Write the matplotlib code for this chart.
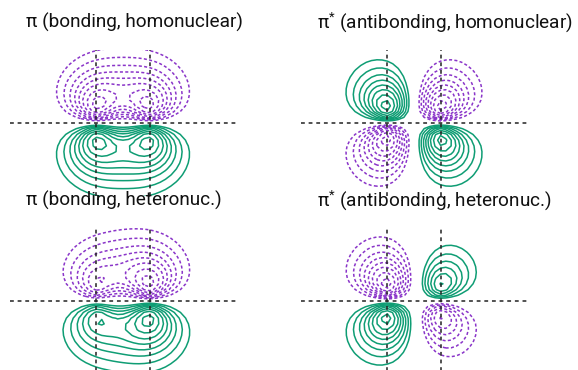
import numpy as np
import matplotlib
matplotlib.use("Agg")
import matplotlib.pyplot as plt

plt.rcParams['font.family'] = ['Roboto', 'DejaVu Sans']
plt.rcParams['mathtext.fontset'] = 'custom'
plt.rcParams['mathtext.rm'] = 'Roboto'
plt.rcParams['mathtext.it'] = 'Roboto'

# ---- data ----
titles = ["π (bonding, homonuclear)", r"π$^{*}$ (antibonding, homonuclear)",
          "π (bonding, heteronuc.)", r"π$^{*}$ (antibonding, heteronuc.)"]
atom_x = [-1.0, 1.0]
zeta = 1.6
# coefficients (left atom, right atom) for each panel
coef_left = [-1.0, 1.0, -0.82, -1.12]
coef_right = [-1.0, -1.0, -1.18, 0.88]
# contour levels as fractions of each panel's largest |psi|
level_fracs = [0.235, 0.335, 0.44, 0.54, 0.64, 0.74, 0.85, 0.95]
x_grid = np.linspace(-4.2, 4.2, 43)
z_grid = np.linspace(-3.2, 3.2, 33)

green = "#0f9d74"
purple = "#8a35c9"

fig = plt.figure(figsize=(5.78, 3.70), dpi=100)
W, H = 578, 370
boxes = [(10, 50), (301, 50), (10, 228), (301, 228)]
aw, ah = 226, 146

X, Z = np.meshgrid(x_grid, z_grid)


def p_orb(x0):
    r = np.sqrt((X - x0) ** 2 + Z ** 2)
    return Z * np.exp(-zeta * r)


for i, (px, py) in enumerate(boxes):
    ax = fig.add_axes([px / W, 1 - (py + ah) / H, aw / W, ah / H])
    psi = coef_left[i] * p_orb(atom_x[0]) + coef_right[i] * p_orb(atom_x[1])
    lv = np.array(level_fracs) * np.abs(psi).max()
    ax.contour(X, Z, psi, levels=lv, colors=green, linewidths=1.1, linestyles='solid')
    cs = ax.contour(X, Z, psi, levels=-lv[::-1], colors=purple, linewidths=1.1)
    cs.set_linestyle([(0, (2, 1.5))])
    ax.axhline(0, color="#222222", lw=1.1, ls=(0, (2.5, 2.5)))
    for xa in atom_x:
        ax.axvline(xa, color="#222222", lw=1.1, ls=(0, (2.5, 2.5)))
    ax.set_xlim(-4.26, 4.26)
    ax.set_ylim(-2.55, 2.55)
    ax.axis('off')
    fig.text((px + 16) / W, 1 - (py - 28) / H, titles[i], fontsize=13.7,
             ha='left', va='center', color='#111111')

fig.savefig("out.png", dpi=100)
